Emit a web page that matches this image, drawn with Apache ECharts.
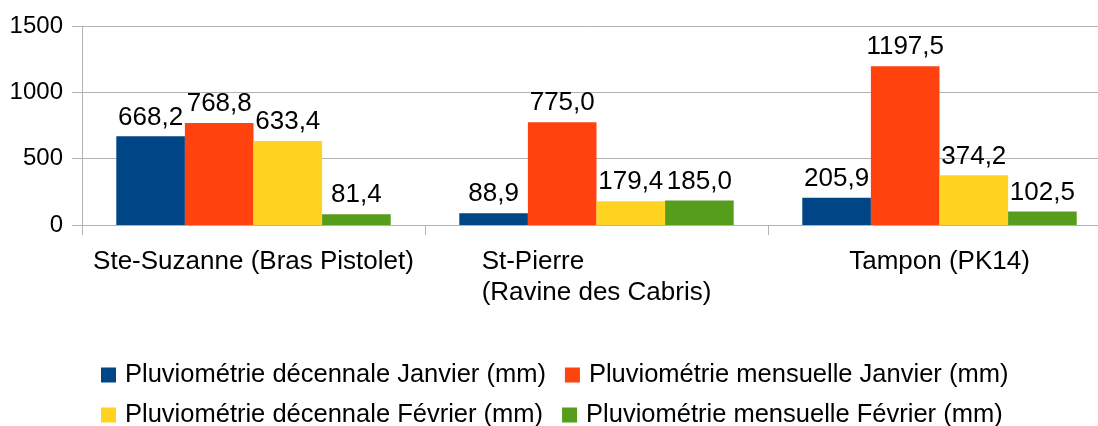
<!DOCTYPE html>
<html>
<head>
<meta charset="utf-8">
<script src="https://cdn.jsdelivr.net/npm/echarts@6/dist/echarts.min.js"></script>
<style>
  html, body { margin: 0; padding: 0; background: #fff; }
  #chart { width: 1098px; height: 426px; }
</style>
</head>
<body>
<div id="chart"></div>
<script>
// stations (x axis)
const stations = ['Ste-Suzanne (Bras Pistolet)', 'St-Pierre\n(Ravine des Cabris)', 'Tampon (PK14)']
const seriesNames = [
  'Pluviométrie décennale Janvier (mm)',
  'Pluviométrie mensuelle Janvier (mm)',
  'Pluviométrie décennale Février (mm)',
  'Pluviométrie mensuelle Février (mm)'
]
const decJanvier = [668.2, 88.9, 205.9]
const mensJanvier = [768.8, 775.0, 1197.5]
const decFevrier = [633.4, 179.4, 374.2]
const mensFevrier = [81.4, 185.0, 102.5]
const yTicks = [0, 500, 1000, 1500]

const colors = ['#004586', '#ff420e', '#ffd320', '#579d1c']
const font = '"Liberation Sans", Arial, sans-serif'
const gridGray = '#b3b3b3'

const chart = echarts.init(document.getElementById('chart'))

const values = [decJanvier, mensJanvier, decFevrier, mensFevrier]
const series = values.map((data, i) => ({
  name: seriesNames[i],
  type: 'bar',
  data: data,
  barGap: '0%',
  barCategoryGap: '20%',
  itemStyle: { color: colors[i] },
  label: {
    show: true,
    position: 'top',
    distance: 6,
    color: '#000',
    fontFamily: font,
    fontSize: 26,
    formatter: p => p.value.toFixed(1).replace('.', ',')
  }
}))

const legendBase = {
  left: 96,
  orient: 'horizontal',
  itemWidth: 15,
  itemHeight: 15,
  itemGap: 19,
  icon: 'rect',
  textStyle: { fontFamily: font, fontSize: 25.5, color: '#000', padding: [0, 0, 0, 4] }
}

chart.setOption({
  animation: false,
  color: colors,
  // plot runs past the right edge of the picture, like the original
  grid: { left: 82, width: 1029, top: 26, height: 199, outerBoundsMode: 'none' },
  legend: [
    Object.assign({}, legendBase, { top: 357, data: [seriesNames[0], seriesNames[1]] }),
    Object.assign({}, legendBase, { top: 397, data: [seriesNames[2], seriesNames[3]] })
  ],
  xAxis: {
    type: 'category',
    data: stations,
    axisLine: { lineStyle: { color: gridGray } },
    axisTick: { show: true, length: 10, lineStyle: { color: gridGray } },
    axisLabel: {
      margin: 21,
      interval: 0,
      formatter: v => v.split('\n').map(s => '{a|' + s + '}').join('\n'),
      rich: {
        a: { fontFamily: font, fontSize: 26, lineHeight: 31, color: '#000', align: 'left' }
      }
    }
  },
  yAxis: {
    type: 'value',
    min: yTicks[0],
    max: yTicks[yTicks.length - 1],
    interval: 500,
    axisLine: { show: true, lineStyle: { color: gridGray } },
    axisTick: { show: true, length: 10, lineStyle: { color: gridGray } },
    splitLine: { lineStyle: { color: gridGray } },
    axisLabel: { margin: 19, fontFamily: font, fontSize: 24, color: '#000', formatter: v => String(v) }
  },
  series: series
})
</script>
</body>
</html>
